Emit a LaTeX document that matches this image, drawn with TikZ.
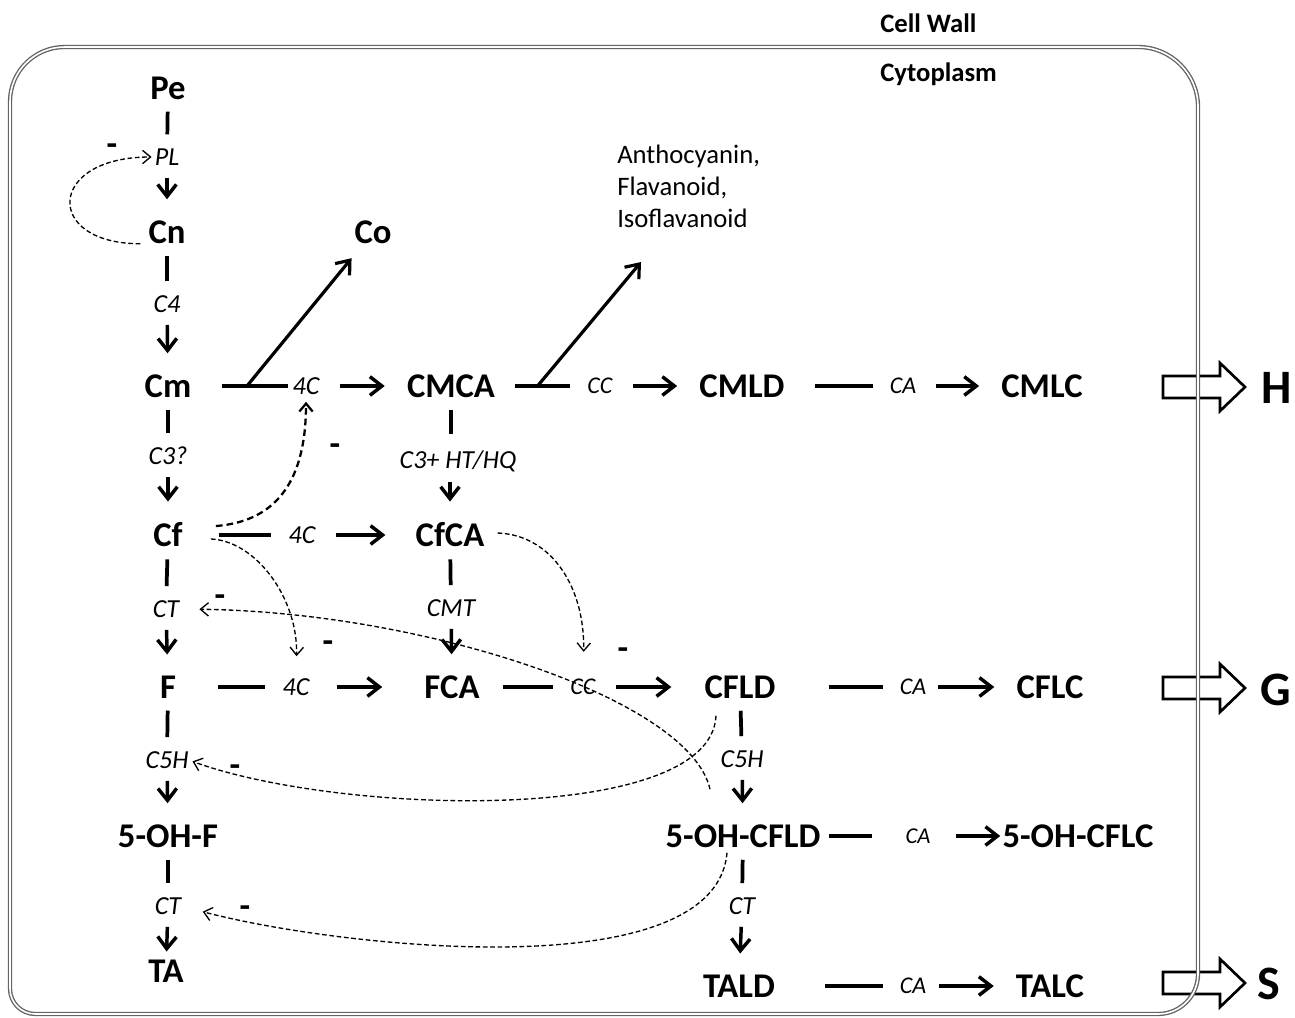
\documentclass[tikz,border=0pt]{standalone}
\usepackage{fontspec}
\setmainfont{Carlito}
\usetikzlibrary{arrows.meta}
\definecolor{wallgray}{RGB}{100,100,100}
\newdimen\pxu \pxu=0.75pt

\begin{document}
\begin{tikzpicture}[x=0.75pt,y=-0.75pt,
  met/.style={font=\bfseries\fontsize{26}{30}\selectfont, inner sep=0pt},
  enz/.style={font=\itshape\fontsize{19.5}{22}\selectfont, inner sep=0pt},
  enzs/.style={font=\itshape\fontsize{18}{21}\selectfont, inner sep=0pt},
  big/.style={font=\bfseries\fontsize{36}{40}\selectfont, inner sep=0pt},
  note/.style={font=\fontsize{20}{24}\selectfont, inner sep=0pt, align=left},
  region/.style={font=\bfseries\fontsize{20}{24}\selectfont, inner sep=0pt, anchor=west},
  minus/.style={font=\bfseries\fontsize{26}{30}\selectfont, inner sep=0pt},
  vbar/.style={line width=2.8pt, shorten <=12\pxu, shorten >=14\pxu},
  vstep/.style={line width=2.6pt, -{Straight Barb[length=9pt,width=14pt]}, shorten <=12\pxu, shorten >=21\pxu},
  hbar/.style={line width=2.6pt, shorten <=30\pxu, shorten >=17\pxu},
  hstep/.style={line width=2.6pt, -{Straight Barb[length=9pt,width=14pt]}, shorten <=20\pxu, shorten >=22\pxu},
  branch/.style={line width=2.4pt, -{Straight Barb[length=9pt,width=14pt]}},
  fback/.style={line width=1pt, dash pattern=on 3.5pt off 2pt, -{Straight Barb[length=6pt,width=10pt]}},
  fbackthick/.style={fback, line width=1.7pt, dash pattern=on 5pt off 3pt},
  fatarrow/.style={draw, line width=2pt, fill=white, line join=miter},
  wall/.style={draw=wallgray, double=white, double distance=1.2pt, line width=1pt}
]
\useasboundingbox (0,0) rectangle (1295,1017);

% export arrows through the wall
\foreach \y in {387,688,983}
  \draw[fatarrow] (1163,\y-11) -- (1220,\y-11) -- (1220,\y-24) -- (1245,\y) -- (1220,\y+24) -- (1220,\y+11) -- (1163,\y+11) -- cycle;

% cell wall
\draw[wall] (10,500) [rounded corners=41pt] -- (10,47) -- (600,47) [rounded corners=45pt] -- (1198,47) -- (1198,600) [rounded corners=30pt] -- (1198,1014) -- (600,1014) [rounded corners=19pt] -- (10,1014) -- cycle;
\node[region] (wlabel) at (880,23) {Cell Wall};
\node[region] (clabel) at (880,74) {Cytoplasm};

% metabolites
\node[met] (Pe) at (168,88) {Pe};
\node[met] (Cn) at (167,232) {Cn};
\node[met] (Cm) at (168,386) {Cm};
\node[met] (Cf) at (168,535) {Cf};
\node[met] (F) at (168,687) {F};
\node[met] (OHF) at (168,836) {5-OH-F};
\node[met] (TA) at (166,971) {TA};
\node[met] (Co) at (373,232) {Co};
\node[met] (CMCA) at (451,386) {CMCA};
\node[met] (CfCA) at (450,535) {CfCA};
\node[met] (FCA) at (452,687) {FCA};
\node[met] (CMLD) at (742,386) {CMLD};
\node[met] (CFLD) at (740,687) {CFLD};
\node[met] (OHCFLD) at (743,836) {5-OH-CFLD};
\node[met] (TALD) at (739,986) {TALD};
\node[met] (CMLC) at (1042,386) {CMLC};
\node[met] (CFLC) at (1050,687) {CFLC};
\node[met] (OHCFLC) at (1078,836) {5-OH-CFLC};
\node[met] (TALC) at (1050,986) {TALC};
\node[note, anchor=north west] (anth) at (617,145) {Anthocyanin,\\Flavanoid,\\Isoflavanoid};

% enzymes
\node[enz] (ePL) at (167,157) {PL};
\node[enz] (eC4) at (167,304) {C4};
\node[enz] (eC3) at (168,456) {C3?};
\node[enz] (eCTa) at (166,609) {CT};
\node[enz] (eC5Ha) at (167,760) {C5H};
\node[enz] (eCTb) at (168,906) {CT};
\node[enz] (e4Ca) at (306,386) {4C};
\node[enz] (e4Cb) at (302,535) {4C};
\node[enz] (e4Cc) at (296,687) {4C};
\node[enz] (eC3HT) at (458,461) {C3+ HT/HQ};
\node[enz] (eCMT) at (451,608) {CMT};
\node[enz] (eC5Hb) at (742,759) {C5H};
\node[enz] (eCTc) at (742,906) {CT};
\node[enzs] (eCCa) at (600,386) {CC};
\node[enzs] (eCCb) at (583,687) {CC};
\node[enzs] (eCAa) at (903,386) {CA};
\node[enzs] (eCAb) at (913,687) {CA};
\node[enzs, font=\itshape\fontsize{17}{20}\selectfont] (eCAc) at (918,836) {CA};
\node[enzs] (eCAd) at (913,986) {CA};

% wall exits
\node[big] (lH) at (1277,388) {H};
\node[big] (lG) at (1276,690) {G};
\node[big] (lS) at (1269,984) {S};

% vertical steps
\draw[vbar] (Pe) -- (ePL);
\draw[vstep] (ePL) -- (Cn);
\draw[vbar] (Cn) -- (eC4);
\draw[vstep] (eC4) -- (Cm);
\draw[vbar] (Cm) -- (eC3);
\draw[vstep] (eC3) -- (Cf);
\draw[vbar] (Cf) -- (eCTa);
\draw[vstep] (eCTa) -- (F);
\draw[vbar] (F) -- (eC5Ha);
\draw[vstep] (eC5Ha) -- (OHF);
\draw[vbar] (OHF) -- (eCTb);
\draw[vstep, shorten >=8\pxu] (eCTb) -- (TA);
\draw[vbar, shorten >=16\pxu] (CMCA) -- (eC3HT.north -| CMCA);
\draw[vstep, shorten <=10\pxu] (eC3HT.south -| CfCA) -- (CfCA);
\draw[vbar] (CfCA) -- (eCMT);
\draw[vstep] (eCMT) -- (FCA);
\draw[vbar] (CFLD) -- (eC5Hb);
\draw[vstep] (eC5Hb) -- (OHCFLD);
\draw[vbar] (OHCFLD) -- (eCTc);
\draw[vstep] (eCTc) -- (TALD);

% horizontal steps
\draw[hbar, shorten >=4\pxu] (Cm) -- coordinate[pos=0.55] (brCo) (e4Ca);
\draw[hstep] (e4Ca) -- (CMCA);
\draw[hbar, shorten <=20\pxu] (CMCA) -- coordinate[pos=0.46] (brAn) (eCCa);
\draw[hstep] (eCCa) -- (CMLD);
\draw[hbar] (CMLD) -- (eCAa);
\draw[hstep] (eCAa) -- (CMLC);
\draw[hbar, shorten <=36\pxu] (Cf) -- (e4Cb);
\draw[hstep, shorten >=30\pxu] (e4Cb) -- (CfCA);
\draw[hbar, shorten <=42\pxu] (F) -- (e4Cc);
\draw[hstep, shorten <=27\pxu, shorten >=42\pxu] (e4Cc) -- (FCA);
\draw[hbar, shorten <=23\pxu] (FCA) -- (eCCb);
\draw[hstep, shorten >=33\pxu] (eCCb) -- (CFLD);
\draw[hbar, shorten <=53\pxu] (CFLD) -- (eCAb);
\draw[hstep, shorten <=12\pxu] (eCAb) -- (CFLC);
\draw[hbar, shorten <=8\pxu, shorten >=33\pxu] (OHCFLD) -- (eCAc);
\draw[hstep, shorten <=25\pxu, shorten >=2\pxu] (eCAc) -- (OHCFLC);
\draw[hbar, shorten <=50\pxu] (TALD) -- (eCAd);
\draw[hstep, shorten <=13\pxu] (eCAd) -- (TALC);

% side branches
\draw[branch, shorten >=14pt] (brCo) -- (Co);
\draw[branch, shorten >=33pt] (brAn) -- (anth.245);

% feedback
\draw[fback, shorten <=8\pxu, shorten >=3\pxu] (Cn.south west) .. controls +(-105,0) and +(-108,0) .. (ePL.west);
\draw[fbackthick, shorten >=7\pxu] ([shift={(33,-9)}]Cf.east) .. controls +(65,-5) and +(0,80) .. (e4Ca.south);
\draw[fback, shorten >=22\pxu] ([shift={(28,4)}]Cf.east) .. controls +(45,2) and +(2,-80) .. (e4Cc.north);
\draw[fback, shorten >=27\pxu] ([shift={(13,-2)}]CfCA.east) .. controls +(55,2) and +(2,-90) .. (eCCb.north);
\draw[fback, shorten >=20\pxu] ([shift={(-33,-35)}]OHCFLD.north) .. controls +(-20,-90) and +(245,3) .. (eCTa.east);
\draw[fback, shorten >=4\pxu] ([shift={(-24,17)}]CFLD.south) .. controls +(-5,110) and +(150,55) .. (eC5Ha.east);
\draw[fback, shorten >=22\pxu] ([shift={(-16,5)}]OHCFLD.south) .. controls +(-12,138) and +(150,40) .. (eCTb.east);

% inhibition marks
\foreach \x/\y [count=\i] in {112/150, 335/450, 220/601, 328/647, 623/654, 235/771, 245/912}
  \node[minus] (minus\i) at (\x,\y) {-};
\end{tikzpicture}
\end{document}
